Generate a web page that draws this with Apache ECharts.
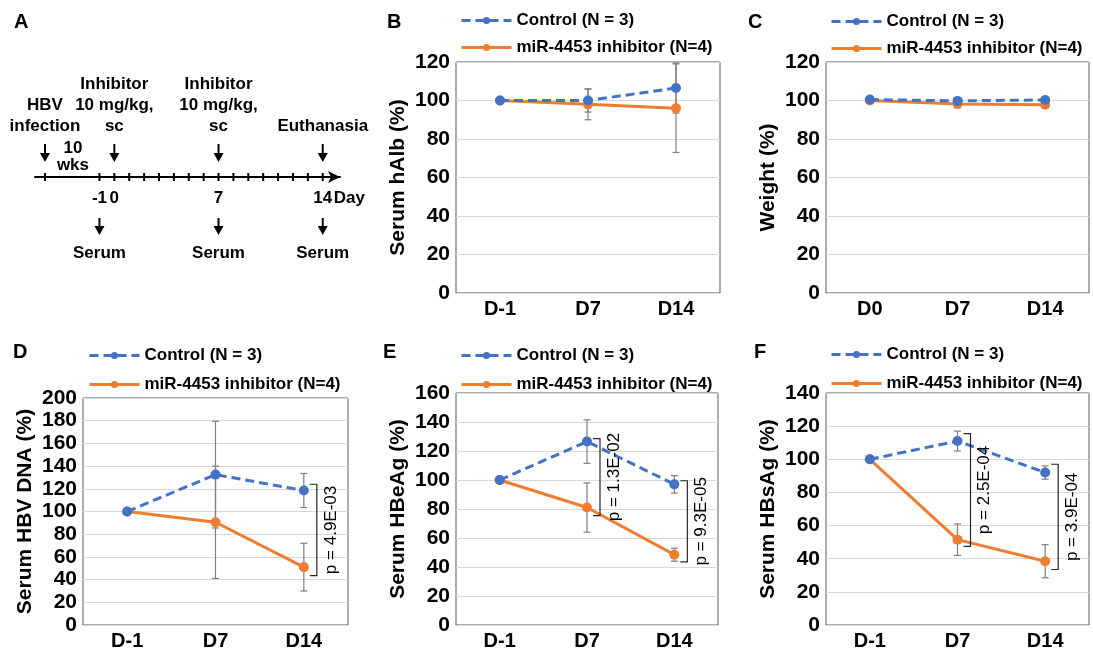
<!DOCTYPE html>
<html>
<head>
<meta charset="utf-8">
<script src="https://cdn.jsdelivr.net/npm/echarts@6/dist/echarts.min.js"></script>
<style>
html,body{margin:0;padding:0;background:#fff;}
#main{width:1093px;height:651px;}
</style>
</head>
<body>
<div id="main"></div>
<script>
// panel A - timeline (days)
var tickDays = [-4.66, -1, 0, 1, 2, 3, 4, 5, 6, 7, 8, 9, 10, 11, 12, 13, 14];
var eventDays = [-4.66, 0, 7, 14];
var eventTexts = ['HBV\ninfection', 'Inhibitor\n10 mg/kg,\nsc', 'Inhibitor\n10 mg/kg,\nsc', 'Euthanasia'];
var gapDays = [-2.78];
var gapTexts = ['10\nwks'];
var dayLabelDays = [-1, 0, 7, 14];
var dayLabels = ['-1', '0', '7', '14'];
var serumDays = [-1, 7, 14];

var legendNames = ['Control (N = 3)', 'miR-4453 inhibitor (N=4)'];

// panel B - serum hAlb
var catsB = ['D-1', 'D7', 'D14'];
var ctrlB = [100, 100, 106.5];
var ctrlErrB = [1, 6, 13];
var inhB = [100, 98, 96];
var inhErrB = [1.5, 8, 23];

// panel C - weight
var catsC = ['D0', 'D7', 'D14'];
var ctrlC = [100.5, 99.8, 100.3];
var ctrlErrC = [1.5, 1.5, 1.5];
var inhC = [100, 98.2, 97.8];
var inhErrC = [1.5, 2, 1.5];

// panel D - HBV DNA
var catsD = ['D-1', 'D7', 'D14'];
var ctrlD = [100, 132.5, 118.5];
var ctrlErrD = [1, 47, 15];
var inhD = [100, 90.5, 51];
var inhErrD = [2, 49.5, 21];
var bracketsD = [[2, 124, 43.5]];
var pTextD = ['p = 4.9E-03'];

// panel E - HBeAg
var catsE = ['D-1', 'D7', 'D14'];
var ctrlE = [100, 126.5, 97];
var ctrlErrE = [1.5, 15, 6];
var inhE = [100, 81, 48.5];
var inhErrE = [2, 17, 4.5];
var bracketsE = [[1, 128.5, 75.5], [2, 99.5, 43.5]];
var pTextE = ['p = 1.3E-02', 'p = 9.3E-05'];

// panel F - HBsAg
var catsF = ['D-1', 'D7', 'D14'];
var ctrlF = [100, 111, 92];
var ctrlErrF = [1, 6, 4];
var inhF = [100, 51.5, 38.5];
var inhErrF = [1.5, 9.5, 10];
var bracketsF = [[1, 115.5, 47.5], [2, 97, 33.5]];
var pTextF = ['p = 2.5E-04', 'p = 3.9E-04'];

var FONT = 'Liberation Sans, Arial, sans-serif';
var BLUE = '#4472C4', ORANGE = '#ED7D31';

var panels = [
    {letter: 'B', cats: catsB, ctrl: ctrlB, ctrlErr: ctrlErrB, inh: inhB, inhErr: inhErrB, yMax: 120, yName: 'Serum hAlb (%)',
     grid: {left: 456, top: 62, width: 264, height: 231}, legend: {left: 460, top: 12, gap: 10}, title: {left: 387, top: 12}},
    {letter: 'C', cats: catsC, ctrl: ctrlC, ctrlErr: ctrlErrC, inh: inhC, inhErr: inhErrC, yMax: 120, yName: 'Weight (%)',
     grid: {left: 826, top: 62, width: 263, height: 231}, legend: {left: 830, top: 13, gap: 10}, title: {left: 748, top: 12}},
    {letter: 'D', cats: catsD, ctrl: ctrlD, ctrlErr: ctrlErrD, inh: inhD, inhErr: inhErrD, yMax: 200, yName: 'Serum HBV DNA (%)',
     grid: {left: 83, top: 398, width: 265, height: 230}, legend: {left: 88, top: 347, gap: 12}, title: {left: 13, top: 342},
     brackets: bracketsD, pText: pTextD},
    {letter: 'E', cats: catsE, ctrl: ctrlE, ctrlErr: ctrlErrE, inh: inhE, inhErr: inhErrE, yMax: 160, yName: 'Serum HBeAg (%)',
     grid: {left: 456, top: 393, width: 262, height: 234}, legend: {left: 460, top: 347, gap: 12}, title: {left: 383, top: 342},
     brackets: bracketsE, pText: pTextE},
    {letter: 'F', cats: catsF, ctrl: ctrlF, ctrlErr: ctrlErrF, inh: inhF, inhErr: inhErrF, yMax: 140, yName: 'Serum HBsAg (%)',
     grid: {left: 826, top: 393, width: 263, height: 235}, legend: {left: 830, top: 346, gap: 12}, title: {left: 754, top: 342},
     brackets: bracketsF, pText: pTextF}
];

function errRender(params, api) {
    var c = api.value(0), v = api.value(1), e = api.value(2);
    var a = api.coord([c, v + e]), b = api.coord([c, v - e]);
    var w = 3.5, st = {stroke: '#7f7f7f', lineWidth: 1.2};
    return {type: 'group', children: [
        {type: 'line', shape: {x1: a[0], y1: a[1], x2: b[0], y2: b[1]}, style: st},
        {type: 'line', shape: {x1: a[0] - w, y1: a[1], x2: a[0] + w, y2: a[1]}, style: st},
        {type: 'line', shape: {x1: b[0] - w, y1: b[1], x2: b[0] + w, y2: b[1]}, style: st}
    ]};
}

function bracketRender(labels) {
    return function (params, api) {
        var c = api.value(0);
        var a = api.coord([c, api.value(1)]), b = api.coord([c, api.value(2)]);
        var x = a[0] + 13;
        return {type: 'group', children: [
            {type: 'polyline', shape: {points: [[x - 7, a[1]], [x, a[1]], [x, b[1]], [x - 7, b[1]]]},
             style: {stroke: '#262626', lineWidth: 1.2, fill: 'none'}},
            {type: 'text', x: x + 14, y: (a[1] + b[1]) / 2, rotation: Math.PI / 2,
             style: {text: labels[params.dataIndex], fontSize: 17, fontFamily: FONT, fill: '#000',
                     align: 'center', verticalAlign: 'middle'}}
        ]};
    };
}

function arrowDown(x, y1, y2) {
    return [
        {type: 'line', shape: {x1: x, y1: y1, x2: x, y2: y2 - 5}, style: {stroke: '#000', lineWidth: 2}},
        {type: 'polygon', shape: {points: [[x - 5, y2 - 9], [x + 5, y2 - 9], [x, y2]]}, style: {fill: '#000'}}
    ];
}

var tlText = {fontSize: 17, fontWeight: 'bold', fontFamily: FONT, fill: '#000', align: 'center'};

var option = {
    animation: false,
    backgroundColor: '#fff',
    title: [{text: 'A', left: 14, top: 12, padding: 0, textStyle: {fontSize: 20, fontWeight: 'bold', fontFamily: FONT, color: '#000'}}],
    grid: [{left: 35, top: 100, width: 305, height: 77}],
    xAxis: [{gridIndex: 0, type: 'value', min: -5.33, max: 15.16,
             axisLine: {show: true, symbol: ['none', 'arrow'], symbolSize: [9, 12], lineStyle: {color: '#000', width: 2}},
             axisTick: {show: false}, axisLabel: {show: false}, splitLine: {show: false}}],
    yAxis: [{gridIndex: 0, type: 'value', min: 0, max: 1, show: false}],
    legend: [],
    series: [
        {type: 'custom', xAxisIndex: 0, yAxisIndex: 0, clip: false, silent: true,
         data: tickDays.map(function (d) { return [d, 0]; }),
         renderItem: function (params, api) {
             var p = api.coord([api.value(0), 0]);
             return {type: 'line', shape: {x1: p[0], y1: p[1] - 4, x2: p[0], y2: p[1] + 4}, style: {stroke: '#000', lineWidth: 2}};
         }},
        {type: 'custom', xAxisIndex: 0, yAxisIndex: 0, clip: false, silent: true,
         data: eventDays.map(function (d) { return [d, 0]; }),
         renderItem: function (params, api) {
             var p = api.coord([api.value(0), 0]);
             var kids = arrowDown(p[0], p[1] - 33, p[1] - 15);
             kids.push({type: 'text', x: p[0], y: p[1] - 40,
                 style: Object.assign({text: eventTexts[params.dataIndex], lineHeight: 21, verticalAlign: 'bottom'}, tlText)});
             return {type: 'group', children: kids};
         }},
        {type: 'custom', xAxisIndex: 0, yAxisIndex: 0, clip: false, silent: true,
         data: gapDays.map(function (d) { return [d, 0]; }),
         renderItem: function (params, api) {
             var p = api.coord([api.value(0), 0]);
             return {type: 'text', x: p[0], y: p[1] - 3,
                 style: Object.assign({text: gapTexts[params.dataIndex], lineHeight: 17, verticalAlign: 'bottom'}, tlText)};
         }},
        {type: 'custom', xAxisIndex: 0, yAxisIndex: 0, clip: false, silent: true,
         data: dayLabelDays.map(function (d) { return [d, 0]; }),
         renderItem: function (params, api) {
             var p = api.coord([api.value(0), 0]);
             var kids = [{type: 'text', x: p[0], y: p[1] + 21,
                 style: Object.assign({text: dayLabels[params.dataIndex], verticalAlign: 'middle'}, tlText)}];
             if (params.dataIndex === dayLabelDays.length - 1) {
                 kids.push({type: 'text', x: p[0] + 11, y: p[1] + 21,
                     style: Object.assign({}, tlText, {text: 'Day', align: 'left', verticalAlign: 'middle'})});
             }
             return {type: 'group', children: kids};
         }},
        {type: 'custom', xAxisIndex: 0, yAxisIndex: 0, clip: false, silent: true,
         data: serumDays.map(function (d) { return [d, 0]; }),
         renderItem: function (params, api) {
             var p = api.coord([api.value(0), 0]);
             var kids = arrowDown(p[0], p[1] + 41, p[1] + 58);
             kids.push({type: 'text', x: p[0], y: p[1] + 76,
                 style: Object.assign({text: 'Serum', verticalAlign: 'middle'}, tlText)});
             return {type: 'group', children: kids};
         }}
    ]
};

panels.forEach(function (pn, k) {
    var gi = k + 1;
    option.title.push({text: pn.letter, left: pn.title.left, top: pn.title.top, padding: 0,
        textStyle: {fontSize: 20, fontWeight: 'bold', fontFamily: FONT, color: '#000'}});
    option.grid.push({left: pn.grid.left, top: pn.grid.top, width: pn.grid.width, height: pn.grid.height,
        show: true, borderColor: '#595959', borderWidth: 1, backgroundColor: 'transparent'});
    option.xAxis.push({gridIndex: gi, type: 'category', data: pn.cats, boundaryGap: true,
        axisLine: {show: false}, axisTick: {show: false},
        axisLabel: {fontSize: 20, fontWeight: 'bold', fontFamily: FONT, color: '#000', margin: 6}});
    option.yAxis.push({gridIndex: gi, type: 'value', min: 0, max: pn.yMax, interval: 20,
        name: pn.yName, nameLocation: 'middle', nameRotate: 90, nameGap: 47,
        nameTextStyle: {fontSize: 21, fontWeight: 'bold', fontFamily: FONT, color: '#000'},
        axisLine: {show: false}, axisTick: {show: false},
        axisLabel: {fontSize: 21, fontWeight: 'bold', fontFamily: FONT, color: '#000', margin: 6},
        splitLine: {show: true, lineStyle: {color: '#d9d9d9', width: 1}}});
    option.legend.push({orient: 'vertical', left: pn.legend.left, top: pn.legend.top, itemGap: pn.legend.gap,
        itemWidth: 50, itemHeight: 9, padding: 0, selectedMode: false, data: legendNames,
        lineStyle: {width: 3},
        textStyle: {fontSize: 17, fontWeight: 'bold', fontFamily: FONT, color: '#000'}});
    option.series.push(
        {type: 'custom', name: 'err-ctrl', xAxisIndex: gi, yAxisIndex: gi, z: 1, silent: true, clip: false,
         data: pn.ctrl.map(function (v, i) { return [i, v, pn.ctrlErr[i]]; }), renderItem: errRender},
        {type: 'custom', name: 'err-inh', xAxisIndex: gi, yAxisIndex: gi, z: 1, silent: true, clip: false,
         data: pn.inh.map(function (v, i) { return [i, v, pn.inhErr[i]]; }), renderItem: errRender},
        {type: 'line', name: legendNames[0], xAxisIndex: gi, yAxisIndex: gi, z: 3, data: pn.ctrl,
         symbol: 'circle', symbolSize: 10, itemStyle: {color: BLUE},
         lineStyle: {color: BLUE, width: 3, type: [9, 5]}},
        {type: 'line', name: legendNames[1], xAxisIndex: gi, yAxisIndex: gi, z: 2, data: pn.inh,
         symbol: 'circle', symbolSize: 10, itemStyle: {color: ORANGE},
         lineStyle: {color: ORANGE, width: 3}}
    );
    if (pn.brackets) {
        option.series.push({type: 'custom', name: 'p-' + pn.letter, xAxisIndex: gi, yAxisIndex: gi, z: 4,
            silent: true, clip: false, data: pn.brackets, renderItem: bracketRender(pn.pText)});
    }
});

var chart = echarts.init(document.getElementById('main'));
chart.setOption(option);
</script>
</body>
</html>
